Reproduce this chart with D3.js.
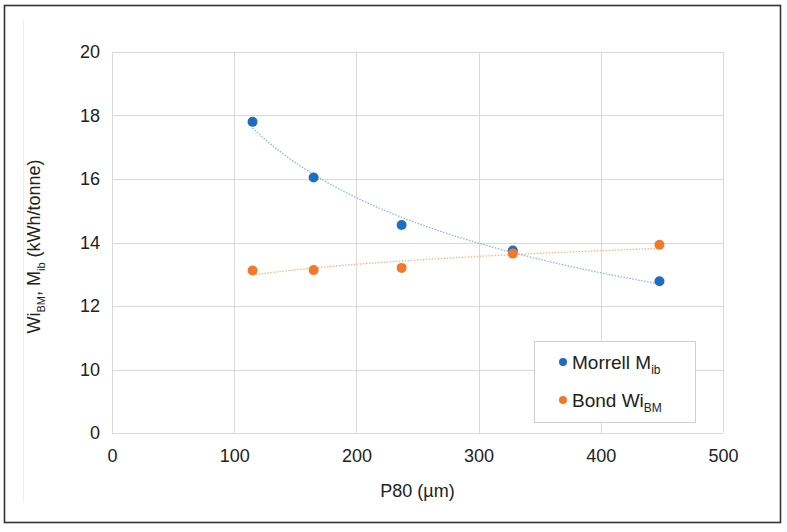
<!DOCTYPE html>
<html>
<head>
<meta charset="utf-8">
<script src="https://cdn.jsdelivr.net/npm/d3@7"></script>
<style>
  body { margin: 0; background: #fff; }
  text { font-family: "Liberation Sans", Arial, sans-serif; fill: #222; }
</style>
</head>
<body>
<svg id="chart" width="787" height="532"></svg>
<script>
// P80 sizes (µm) shared by both series
var p80 = [115, 165, 237, 328, 448];
// Morrell Mib (kWh/tonne)
var morrell = [17.8, 16.05, 14.55, 13.75, 12.78];
// Bond WiBM (kWh/tonne)
var bond = [13.12, 13.13, 13.2, 13.65, 13.93];

var xTicks = [0, 100, 200, 300, 400, 500];
// the y axis is broken between 0 and 10
var yTicks = [0, 10, 12, 14, 16, 18, 20];

var svg = d3.select("#chart");

var plotLeft = 112, plotRight = 723, plotTop = 52, plotBottom = 433;
var fontSize = "18px";

var x = d3.scaleLinear().domain([0, 500]).range([plotLeft, plotRight]);
// piecewise scale: 0..10 takes the same room as one 2-unit step
var y = d3.scaleLinear().domain([0, 10, 20])
    .range([plotBottom, plotBottom - (plotBottom - plotTop) / 6, plotTop]);

// outer frame and faint chart border
svg.append("rect")
    .attr("x", 4.5).attr("y", 5.5).attr("width", 776).attr("height", 517)
    .attr("fill", "none").attr("stroke", "#333").attr("stroke-width", 1.6);
svg.append("line")
    .attr("x1", 23.5).attr("x2", 23.5).attr("y1", 20).attr("y2", 503)
    .attr("stroke", "#eeeeee");

// gridlines
svg.append("g").selectAll("line")
    .data(yTicks).enter()
    .append("line")
    .attr("x1", plotLeft).attr("x2", plotRight)
    .attr("y1", function (d) { return Math.round(y(d)) + 0.5; })
    .attr("y2", function (d) { return Math.round(y(d)) + 0.5; })
    .attr("stroke", "#d9d9d9");
svg.append("g").selectAll("line")
    .data(xTicks).enter()
    .append("line")
    .attr("y1", plotTop).attr("y2", plotBottom)
    .attr("x1", function (d) { return Math.round(x(d)) + 0.5; })
    .attr("x2", function (d) { return Math.round(x(d)) + 0.5; })
    .attr("stroke", "#d9d9d9");

// axes (labels only, lines come from the grid)
var xAxis = svg.append("g")
    .attr("transform", "translate(0," + plotBottom + ")")
    .call(d3.axisBottom(x).tickValues(xTicks).tickSize(0).tickPadding(16));
var yAxis = svg.append("g")
    .attr("transform", "translate(" + plotLeft + ",0)")
    .call(d3.axisLeft(y).tickValues(yTicks).tickSize(0).tickPadding(12));
[xAxis, yAxis].forEach(function (g) {
    g.select(".domain").remove();
    g.selectAll("text")
        .style("font-family", "'Liberation Sans', Arial, sans-serif")
        .style("font-size", fontSize)
        .attr("fill", "#222");
});

// axis titles
svg.append("text")
    .attr("x", (plotLeft + plotRight) / 2).attr("y", 497)
    .attr("text-anchor", "middle")
    .style("font-size", fontSize)
    .text("P80 (µm)");

var yTitle = svg.append("text")
    .attr("transform", "translate(40," + ((plotTop + plotBottom) / 2 + 4) + ") rotate(-90)")
    .attr("text-anchor", "middle")
    .style("font-size", fontSize);
yTitle.append("tspan").text("Wi");
yTitle.append("tspan").attr("dy", 5).style("font-size", "11px").text("BM");
yTitle.append("tspan").attr("dy", -5).text(", M");
yTitle.append("tspan").attr("dy", 5).style("font-size", "11px").text("ib");
yTitle.append("tspan").attr("dy", -5).text(" (kWh/tonne)");

// power trendline fitted to the points (like a spreadsheet trendline)
function powerFit(xs, ys) {
    var lx = xs.map(Math.log), ly = ys.map(Math.log);
    var mx = d3.mean(lx), my = d3.mean(ly);
    var b = d3.sum(lx, function (v, i) { return (v - mx) * (ly[i] - my); }) /
            d3.sum(lx, function (v) { return (v - mx) * (v - mx); });
    var a = Math.exp(my - b * mx);
    return function (v) { return a * Math.pow(v, b); };
}

var line = d3.line()
    .x(function (d) { return x(d[0]); })
    .y(function (d) { return y(d[1]); });

var series = [
    { name: "Morrell", values: morrell, color: "#1f6cc0", trend: "#8db5e0" },
    { name: "Bond", values: bond, color: "#f07a2a", trend: "#f5b48a" }
];

series.forEach(function (s) {
    var f = powerFit(p80, s.values);
    var xs = d3.range(p80[0], p80[p80.length - 1] + 1, 2);
    svg.append("path")
        .datum(xs.map(function (v) { return [v, f(v)]; }))
        .attr("d", line)
        .attr("fill", "none")
        .attr("stroke", s.trend)
        .attr("stroke-width", 1.3)
        .attr("stroke-dasharray", "1.5,1.5");
});

series.forEach(function (s) {
    svg.append("g").selectAll("circle")
        .data(s.values).enter()
        .append("circle")
        .attr("cx", function (d, i) { return x(p80[i]); })
        .attr("cy", function (d) { return y(d); })
        .attr("r", 5)
        .attr("fill", s.color);
});

// legend
var legend = svg.append("g").attr("transform", "translate(534,341)");
legend.append("rect")
    .attr("x", 0.5).attr("y", 0.5).attr("width", 161).attr("height", 81)
    .attr("fill", "#fff").attr("stroke", "#cfcfcf");

var legendItems = [
    { main: "Morrell M", sub: "ib", color: series[0].color },
    { main: "Bond Wi", sub: "BM", color: series[1].color }
];
legendItems.forEach(function (d, i) {
    var row = legend.append("g").attr("transform", "translate(0," + (21 + i * 38) + ")");
    row.append("circle").attr("cx", 29).attr("cy", 0).attr("r", 4).attr("fill", d.color);
    var t = row.append("text").attr("x", 38).attr("y", 7).style("font-size", "19px");
    t.append("tspan").text(d.main);
    t.append("tspan").attr("dy", 5).style("font-size", "12px").text(d.sub);
});
</script>
</body>
</html>
